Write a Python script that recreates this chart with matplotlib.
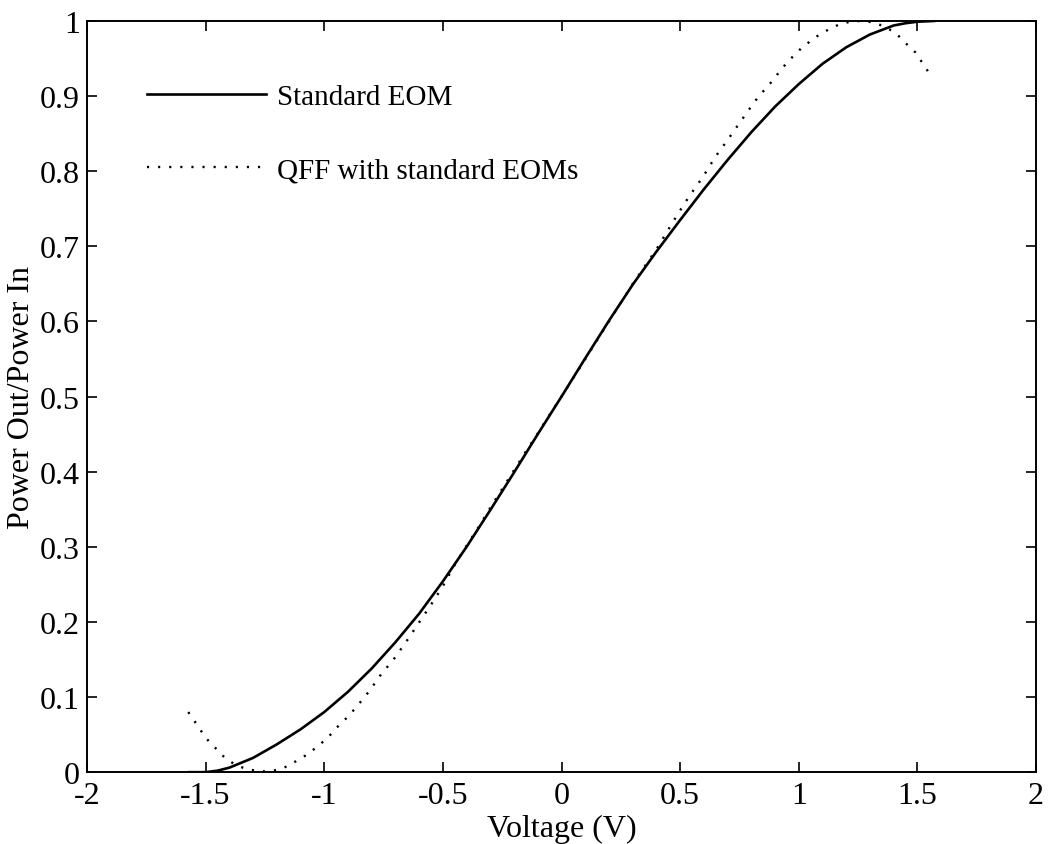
import matplotlib
matplotlib.use("Agg")
import matplotlib.pyplot as plt

# standard EOM transfer curve
volt_std = [-1.57, -1.5, -1.45, -1.4, -1.3, -1.2, -1.1, -1.0, -0.9, -0.8, -0.7, -0.6,
            -0.5, -0.4, -0.3, -0.2, -0.1, 0.0, 0.1, 0.2, 0.3, 0.4, 0.5, 0.6,
            0.7, 0.8, 0.9, 1.0, 1.1, 1.2, 1.3, 1.4, 1.45, 1.5, 1.57]
power_std = [0.0, 0.0, 0.002, 0.006, 0.019, 0.037, 0.057, 0.080, 0.107, 0.138, 0.173, 0.211,
             0.254, 0.300, 0.349, 0.399, 0.450, 0.500, 0.551, 0.601, 0.649, 0.693, 0.735, 0.776,
             0.815, 0.852, 0.886, 0.916, 0.943, 0.965, 0.982, 0.994, 0.997, 0.999, 1.0]

# QFF with standard EOMs
volt_qff = [-1.573, -1.549, -1.525, -1.503, -1.48, -1.461, -1.435, -1.414, -1.38, -1.336,
            -1.29, -1.25, -1.215, -1.175, -1.139, -1.100, -1.065, -1.026, -0.988, -0.945,
            -0.90, -0.861, -0.810, -0.761, -0.708, -0.656, -0.603, -0.552, -0.503, -0.454,
            -0.405, -0.35, -0.30, -0.25, -0.20, -0.15, -0.10, -0.05, 0.0, 0.05,
            0.10, 0.15, 0.20, 0.25, 0.30, 0.35, 0.40, 0.438, 0.492, 0.539,
            0.595, 0.648, 0.701, 0.752, 0.808, 0.832, 0.88, 0.93, 0.96, 0.996,
            1.017, 1.049, 1.083, 1.133, 1.175, 1.217, 1.259, 1.296, 1.334, 1.37,
            1.408, 1.443, 1.471, 1.492, 1.515, 1.538, 1.561]
power_qff = [0.080, 0.069, 0.058, 0.047, 0.039, 0.033, 0.024, 0.018, 0.011, 0.005,
             0.002, 0.001, 0.002, 0.005, 0.011, 0.018, 0.025, 0.035, 0.045, 0.060,
             0.074, 0.088, 0.108, 0.130, 0.150, 0.173, 0.198, 0.222, 0.246, 0.274,
             0.299, 0.326, 0.352, 0.377, 0.402, 0.427, 0.451, 0.476, 0.500, 0.525,
             0.550, 0.575, 0.600, 0.625, 0.650, 0.673, 0.696, 0.716, 0.744, 0.767,
             0.792, 0.819, 0.842, 0.865, 0.890, 0.900, 0.917, 0.937, 0.948, 0.959,
             0.966, 0.973, 0.981, 0.990, 0.996, 0.999, 1.000, 0.999, 0.996, 0.991,
             0.984, 0.973, 0.964, 0.958, 0.947, 0.936, 0.925]

x_ticks = [-2, -1.5, -1, -0.5, 0, 0.5, 1, 1.5, 2]
x_tick_labels = ["-2", "-1.5", "-1", "-0.5", "0", "0.5", "1", "1.5", "2"]
y_ticks = [0, 0.1, 0.2, 0.3, 0.4, 0.5, 0.6, 0.7, 0.8, 0.9, 1]
y_tick_labels = ["0", "0.1", "0.2", "0.3", "0.4", "0.5", "0.6", "0.7", "0.8", "0.9", "1"]

plt.rcParams["font.family"] = ["Liberation Serif", "DejaVu Serif"]
plt.rcParams["axes.unicode_minus"] = False

fig = plt.figure(figsize=(10.54, 8.45), dpi=100)
ax = fig.add_axes([0.0825, 0.085, 0.9005, 0.889])

ax.plot(volt_std, power_std, color="black", linewidth=1.9, label="Standard EOM")
ax.plot(volt_qff, power_qff, color="black", linewidth=1.7,
        linestyle=(0, (0.9, 3.8)), label="QFF with standard EOMs")

ax.set_xlim(-2, 2)
ax.set_ylim(0, 1)
ax.set_xticks(x_ticks)
ax.set_xticklabels(x_tick_labels)
ax.set_yticks(y_ticks)
ax.set_yticklabels(y_tick_labels)
ax.tick_params(direction="in", length=7, width=1.2, top=True, right=True,
               labelsize=23)
ax.tick_params(axis="x", pad=6)
ax.tick_params(axis="y", pad=5)
for side in ax.spines.values():
    side.set_linewidth(1.4)

ax.set_xlabel("Voltage (V)", fontsize=23, labelpad=3)
ax.set_ylabel("Power Out/Power In", fontsize=23, labelpad=3)

leg = ax.legend(loc="center left", bbox_to_anchor=(0.063, 0.85), frameon=False,
                fontsize=21, handlelength=4.1, handletextpad=0.35,
                labelspacing=1.6, borderpad=0, borderaxespad=0)

fig.savefig("out.png", dpi=100)
